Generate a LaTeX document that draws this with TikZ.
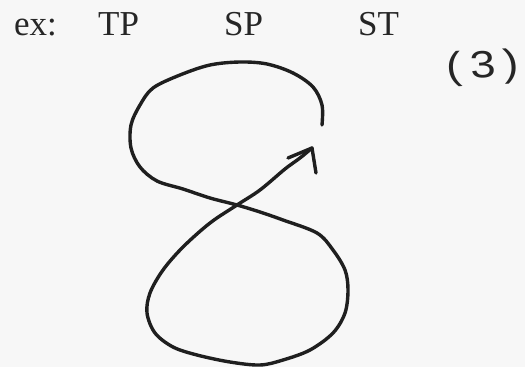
\documentclass[tikz,border=0pt]{standalone}
\usepackage{fontspec}
\setmainfont{Liberation Serif}
\newfontfamily\handfont{Liberation Sans}
\begin{document}
\begin{tikzpicture}[x=1pt,y=-1pt,
  ink/.style={draw=black!88, line width=3.4pt, line cap=round, line join=round},
  label/.style={font=\fontsize{35}{40}\selectfont, inner sep=0pt, anchor=base west, text=black!85},
  hand/.style={font=\handfont\fontsize{38}{42}\selectfont, inner sep=0pt, text=black!85}]
\fill[black!3] (0,0) rectangle (525,367);
\useasboundingbox (0,0) rectangle (525,367);
\node[label] (ex) at (14,35) {ex:};
\node[label] (tp) at (98,35) {TP};
\node[label] (sp) at (224,35) {SP};
\node[label] (st) at (358,35) {ST};
\node[hand, xscale=1.2, rotate=4, transform shape] (three) at (483,68) {(\kern7pt3\kern7pt)};
\coordinate (tip) at (312,148);
\coordinate (barbL) at (288,158);
\coordinate (barbR) at (316,173);
\draw[ink] plot[smooth, tension=0.55] coordinates {
  (322,125) (322,105) (313,87) (293,73) (267,64) (240,62) (210,65) (180,75)
  (153,88) (140,105) (131,125) (131,148) (140,167) (157,181) (183,189) (210,198)
  (237,205) (260,212) (283,220) (317,233) (333,250) (345,270) (348,290) (345,313)
  (333,333) (310,350) (283,360) (260,365) (230,362) (197,355) (173,347) (155,333)
  (147,313) (150,293) (163,270) (183,247) (210,223) (237,205) (260,190) (285,169)
  (300,158) (312,148)};
\draw[ink] (barbL) -- (tip) -- (barbR);
\end{tikzpicture}
\end{document}
